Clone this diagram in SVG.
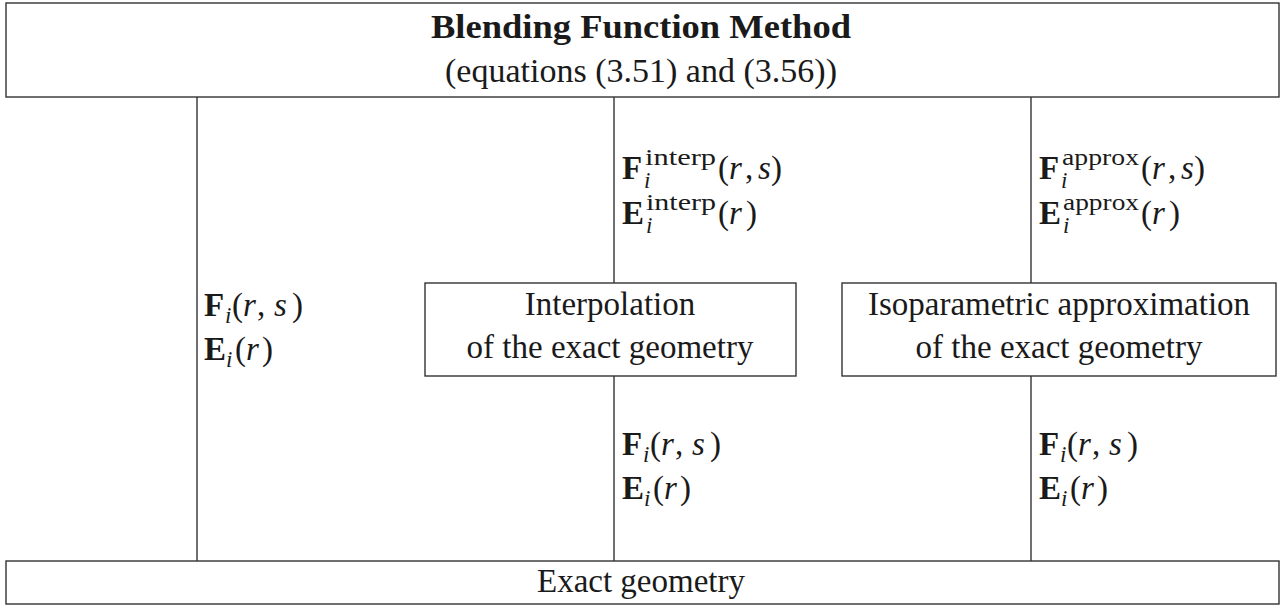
<svg xmlns="http://www.w3.org/2000/svg" width="1283" height="608" viewBox="0 0 1283 608">
<style>
.box{fill:#fff;stroke:#333;stroke-width:1.4}
.ln{stroke:#333;stroke-width:1.4;fill:none}
text{font-family:"Liberation Serif","DejaVu Serif",serif;font-size:33px;fill:#1a1a1a}
.c{text-anchor:middle}
.b{font-weight:bold}
.it{font-style:italic}
.sm{font-size:23px}
</style>
<rect width="1283" height="608" fill="#fff"/>
<g id="connectors">
<line class="ln" x1="197" y1="97" x2="197" y2="561"/>
<line class="ln" x1="614" y1="97" x2="614" y2="283"/>
<line class="ln" x1="614" y1="376" x2="614" y2="561"/>
<line class="ln" x1="1031" y1="97" x2="1031" y2="283"/>
<line class="ln" x1="1031" y1="376" x2="1031" y2="561"/>
</g>
<g id="blending">
<rect class="box" x="6" y="3" width="1273" height="94"/>
<text class="c b" x="641" y="38" textLength="420" lengthAdjust="spacingAndGlyphs">Blending Function Method</text>
<text class="c" x="641" y="82" textLength="392" lengthAdjust="spacingAndGlyphs">(equations (3.51) and (3.56))</text>
</g>
<g id="interp">
<rect class="box" x="425" y="283" width="371" height="93"/>
<text class="c" x="610" y="315">Interpolation</text>
<text class="c" x="610" y="358">of the exact geometry</text>
</g>
<g id="iso">
<rect class="box" x="842" y="283" width="434" height="93"/>
<text class="c" x="1059" y="315">Isoparametric approximation</text>
<text class="c" x="1059" y="358">of the exact geometry</text>
</g>
<g id="exact">
<rect class="box" x="6" y="561" width="1273" height="43"/>
<text class="c" x="641" y="592">Exact geometry</text>
</g>
<g id="labels">
<!-- left -->
<text y="316"><tspan class="b" x="204">F</tspan><tspan class="sm it" x="225" dy="7">i</tspan><tspan x="232" dy="-7">(</tspan><tspan class="it" x="243">r</tspan><tspan x="257">,</tspan><tspan class="it" x="274">s</tspan><tspan x="292">)</tspan></text>
<text y="360"><tspan class="b" x="204">E</tspan><tspan class="sm it" x="226" dy="7">i</tspan><tspan x="235" dy="-7">(</tspan><tspan class="it" x="246">r</tspan><tspan x="262">)</tspan></text>
<!-- interp top -->
<g id="lbl-interp">
<text y="179"><tspan class="b" x="622">F</tspan><tspan class="sm it" x="644" dy="9">i</tspan><tspan x="718" dy="-9">(</tspan><tspan class="it" x="729">r</tspan><tspan x="745">,</tspan><tspan class="it" x="758">s</tspan><tspan x="771">)</tspan></text>
<text class="sm" x="645" y="165" textLength="71" lengthAdjust="spacingAndGlyphs">interp</text>
<text y="224"><tspan class="b" x="622">E</tspan><tspan class="sm it" x="646" dy="9">i</tspan><tspan x="718" dy="-9">(</tspan><tspan class="it" x="729">r</tspan><tspan x="746">)</tspan></text>
<text class="sm" x="646" y="210" textLength="70" lengthAdjust="spacingAndGlyphs">interp</text>
</g>
<!-- approx top -->
<g id="lbl-approx">
<text y="179"><tspan class="b" x="1039">F</tspan><tspan class="sm it" x="1061" dy="9">i</tspan><tspan x="1141" dy="-9">(</tspan><tspan class="it" x="1152">r</tspan><tspan x="1168">,</tspan><tspan class="it" x="1181">s</tspan><tspan x="1194">)</tspan></text>
<text class="sm" x="1062" y="165" textLength="77" lengthAdjust="spacingAndGlyphs">approx</text>
<text y="224"><tspan class="b" x="1039">E</tspan><tspan class="sm it" x="1063" dy="9">i</tspan><tspan x="1141" dy="-9">(</tspan><tspan class="it" x="1152">r</tspan><tspan x="1169">)</tspan></text>
<text class="sm" x="1063" y="210" textLength="76" lengthAdjust="spacingAndGlyphs">approx</text>
</g>
<!-- bottom interp -->
<text y="455"><tspan class="b" x="622">F</tspan><tspan class="sm it" x="643" dy="7">i</tspan><tspan x="650" dy="-7">(</tspan><tspan class="it" x="661">r</tspan><tspan x="675">,</tspan><tspan class="it" x="692">s</tspan><tspan x="710">)</tspan></text>
<text y="499"><tspan class="b" x="622">E</tspan><tspan class="sm it" x="644" dy="7">i</tspan><tspan x="653" dy="-7">(</tspan><tspan class="it" x="664">r</tspan><tspan x="680">)</tspan></text>
<!-- bottom approx -->
<text y="455"><tspan class="b" x="1039">F</tspan><tspan class="sm it" x="1060" dy="7">i</tspan><tspan x="1067" dy="-7">(</tspan><tspan class="it" x="1078">r</tspan><tspan x="1092">,</tspan><tspan class="it" x="1109">s</tspan><tspan x="1127">)</tspan></text>
<text y="499"><tspan class="b" x="1039">E</tspan><tspan class="sm it" x="1061" dy="7">i</tspan><tspan x="1070" dy="-7">(</tspan><tspan class="it" x="1081">r</tspan><tspan x="1097">)</tspan></text>
</g>
</svg>
